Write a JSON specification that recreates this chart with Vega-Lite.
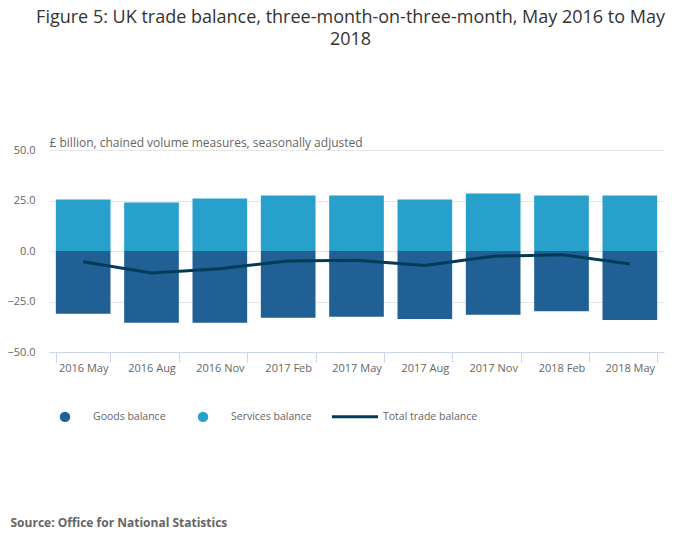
{
  "$schema": "https://vega.github.io/schema/vega-lite/v6.json",
  "autosize": {"type": "none"},
  "padding": {"left": 49, "top": 150, "right": 36, "bottom": 197},
  "width": 615,
  "height": 202,
  "title": {
    "text": ["Figure 5: UK trade balance, three-month-on-three-month, May 2016 to May", "2018"],
    "fontSize": 18,
    "fontWeight": "normal",
    "color": "#333333",
    "lineHeight": 22,
    "anchor": "middle",
    "dx": -6,
    "offset": 87
  },
  "data": {
    "values": [
      {"period": "2016 May", "series": "Goods balance", "value": -31.1},
      {"period": "2016 May", "series": "Services balance", "value": 25.5},
      {"period": "2016 May", "series": "Total trade balance", "value": -5.3},
      {"period": "2016 Aug", "series": "Goods balance", "value": -35.5},
      {"period": "2016 Aug", "series": "Services balance", "value": 24.0},
      {"period": "2016 Aug", "series": "Total trade balance", "value": -10.9},
      {"period": "2016 Nov", "series": "Goods balance", "value": -35.5},
      {"period": "2016 Nov", "series": "Services balance", "value": 26.0},
      {"period": "2016 Nov", "series": "Total trade balance", "value": -8.8},
      {"period": "2017 Feb", "series": "Goods balance", "value": -33.1},
      {"period": "2017 Feb", "series": "Services balance", "value": 27.5},
      {"period": "2017 Feb", "series": "Total trade balance", "value": -4.9},
      {"period": "2017 May", "series": "Goods balance", "value": -32.6},
      {"period": "2017 May", "series": "Services balance", "value": 27.5},
      {"period": "2017 May", "series": "Total trade balance", "value": -4.6},
      {"period": "2017 Aug", "series": "Goods balance", "value": -33.7},
      {"period": "2017 Aug", "series": "Services balance", "value": 25.5},
      {"period": "2017 Aug", "series": "Total trade balance", "value": -7.2},
      {"period": "2017 Nov", "series": "Goods balance", "value": -31.6},
      {"period": "2017 Nov", "series": "Services balance", "value": 28.5},
      {"period": "2017 Nov", "series": "Total trade balance", "value": -2.6},
      {"period": "2018 Feb", "series": "Goods balance", "value": -29.8},
      {"period": "2018 Feb", "series": "Services balance", "value": 27.5},
      {"period": "2018 Feb", "series": "Total trade balance", "value": -1.8},
      {"period": "2018 May", "series": "Goods balance", "value": -34.2},
      {"period": "2018 May", "series": "Services balance", "value": 27.5},
      {"period": "2018 May", "series": "Total trade balance", "value": -6.4}
    ]
  },
  "encoding": {
    "x": {
      "field": "period",
      "type": "nominal",
      "sort": null,
      "scale": {"paddingInner": 0.2, "paddingOuter": 0.1},
      "axis": {
        "title": "Source: Office for National Statistics",
        "titleX": -39,
        "titleY": 174,
        "titleAlign": "left",
        "titleBaseline": "alphabetic",
        "titleFontSize": 12,
        "titleFontWeight": "bold",
        "titleColor": "#666666",
        "labelAngle": 0,
        "labelFontSize": 11,
        "labelColor": "#666666",
        "labelPadding": 0,
        "tickBand": "extent",
        "tickSize": 10,
        "tickColor": "#ccd6eb",
        "domainColor": "#ccd6eb",
        "grid": false
      }
    },
    "y": {
      "field": "value",
      "type": "quantitative",
      "scale": {"domain": [-50, 50], "nice": false},
      "axis": {
        "title": "£ billion, chained volume measures, seasonally adjusted",
        "titleAngle": 0,
        "titleAlign": "left",
        "titleBaseline": "alphabetic",
        "titleX": 0,
        "titleY": -4,
        "titleFontSize": 12,
        "titleFontWeight": "normal",
        "titleColor": "#666666",
        "values": [-50, -25, 0, 25, 50],
        "format": ".1f",
        "labelFontSize": 11,
        "labelColor": "#666666",
        "labelPadding": 14,
        "domain": false,
        "ticks": false,
        "gridColor": "#e6e6e6"
      }
    },
    "color": {
      "field": "series",
      "type": "nominal",
      "scale": {
        "domain": ["Goods balance", "Services balance", "Total trade balance"],
        "range": ["#206095", "#27a0cc", "#003c57"]
      },
      "legend": {
        "title": null,
        "orient": "none",
        "direction": "horizontal",
        "legendX": -7,
        "legendY": 261,
        "padding": 0,
        "symbolType": "circle",
        "labelFontSize": 10.5,
        "labelColor": "#666666",
        "columnPadding": 14,
        "encode": {
          "symbols": {
            "update": {
              "x": {"value": 23},
              "shape": {"signal": "datum.value === 'Total trade balance' ? 'stroke' : 'circle'"},
              "size": {"signal": "datum.value === 'Total trade balance' ? 2116 : 110"},
              "strokeWidth": {"signal": "datum.value === 'Total trade balance' ? 3 : 0"},
              "stroke": {"signal": "scale('color', datum.value)"},
              "fill": {"signal": "datum.value === 'Total trade balance' ? 'transparent' : scale('color', datum.value)"},
              "opacity": {"value": 1}
            }
          },
          "labels": {
            "update": {
              "x": {"value": 51}
            }
          }
        }
      }
    }
  },
  "layer": [
    {
      "transform": [{"filter": "datum.series !== 'Total trade balance'"}],
      "mark": {"type": "bar"}
    },
    {
      "transform": [{"filter": "datum.series === 'Total trade balance'"}],
      "mark": {"type": "line", "strokeWidth": 3}
    }
  ],
  "config": {
    "font": "Open Sans",
    "view": {"stroke": null}
  }
}
